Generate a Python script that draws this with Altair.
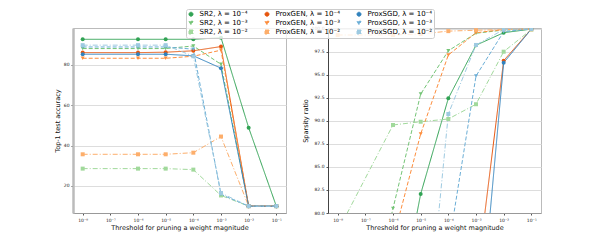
import altair as alt
import pandas as pd

thresholds = [1e-8, 1e-6, 1e-5, 1e-4, 1e-3, 1e-2, 1e-1]

# legend order (column-wise fill of a 3-column legend)
series = [
    "SR2, λ = 10⁻⁴", "SR2, λ = 10⁻³", "SR2, λ = 10⁻²",
    "ProxGEN, λ = 10⁻⁴", "ProxGEN, λ = 10⁻³", "ProxGEN, λ = 10⁻²",
    "ProxSGD, λ = 10⁻⁴", "ProxSGD, λ = 10⁻³", "ProxSGD, λ = 10⁻²",
]
colors = ["#31a354", "#74c476", "#a1d99b",
          "#e6550d", "#fd8d3c", "#fdae6b",
          "#3182bd", "#6baed6", "#9ecae1"]
shapes = ["circle", "triangle-down", "square"] * 3
dashes = [[1, 0], [4, 2], [5, 2, 1, 2]] * 3

# Top-1 test accuracy
acc_sr2_4 = [92.7, 92.7, 92.7, 92.7, 93.5, 48.9, 10.0]
acc_sr2_3 = [88.1, 88.1, 88.1, 89.4, 80.3, 10.0, 10.0]
acc_sr2_2 = [28.6, 28.6, 28.6, 28.1, 15.3, 10.0, 10.0]
acc_pg_4 = [86.1, 86.1, 86.3, 87.0, 89.1, 10.0, 10.0]
acc_pg_3 = [83.3, 83.3, 83.3, 84.3, 87.3, 10.0, 10.0]
acc_pg_2 = [35.7, 35.7, 35.7, 36.5, 44.5, 10.0, 10.0]
acc_ps_4 = [85.3, 85.3, 85.3, 84.5, 78.4, 10.0, 10.0]
acc_ps_3 = [88.9, 88.9, 88.9, 87.8, 15.8, 10.0, 10.0]
acc_ps_2 = [89.8, 89.8, 89.8, 84.3, 16.5, 10.0, 10.0]

# Sparsity ratio
sp_sr2_4 = [40.0, 66.5, 82.06, 92.44, 98.2, 99.56, 99.95]
sp_sr2_3 = [55.0, 80.5, 92.9, 97.6, 99.5, 99.85, 99.95]
sp_sr2_2 = [78.0, 89.55, 89.9, 90.2, 91.8, 97.5, 99.9]
sp_pg_4 = [10.0, 20.0, 35.0, 50.0, 72.2, 96.53, 99.95]
sp_pg_3 = [50.0, 77.1, 88.57, 97.14, 99.56, 99.9, 99.95]
sp_pg_2 = [99.31, 99.31, 99.42, 99.73, 99.83, 99.89, 99.93]
sp_ps_4 = [10.0, 20.0, 30.0, 45.0, 63.0, 96.3, 99.95]
sp_ps_3 = [20.0, 35.0, 50.0, 76.2, 94.86, 99.67, 99.97]
sp_ps_2 = [30.0, 45.0, 59.8, 90.74, 98.23, 99.9, 99.97]

acc = dict(zip(series, [acc_sr2_4, acc_sr2_3, acc_sr2_2,
                        acc_pg_4, acc_pg_3, acc_pg_2,
                        acc_ps_4, acc_ps_3, acc_ps_2]))
sp = dict(zip(series, [sp_sr2_4, sp_sr2_3, sp_sr2_2,
                       sp_pg_4, sp_pg_3, sp_pg_2,
                       sp_ps_4, sp_ps_3, sp_ps_2]))

def long(d):
    rows = []
    for s in series:
        for t, v in zip(thresholds, d[s]):
            rows.append({"threshold": t, "series": s, "value": v})
    return pd.DataFrame(rows)

df_acc = long(acc)
df_sp = long(sp)

FONT = "DejaVu Sans"
legend = alt.Legend(
    title=None, orient="none", legendX=113, legendY=-19, columns=3,
    labelFontSize=7, labelFont=FONT, symbolSize=16, symbolStrokeWidth=1,
    rowPadding=0, columnPadding=14, padding=1.5, labelOffset=5,
    fillColor="rgba(255,255,255,0.8)", strokeColor="#cccccc", cornerRadius=2,
    labelLimit=200,
)

color = alt.Color("series:N", scale=alt.Scale(domain=series, range=colors), legend=legend)
shape = alt.Shape("series:N", scale=alt.Scale(domain=series, range=shapes), legend=legend)
dash = alt.StrokeDash("series:N", scale=alt.Scale(domain=series, range=dashes), legend=None)

exp_labels = "'10' + ['⁻⁸','⁻⁷','⁻⁶','⁻⁵','⁻⁴','⁻³','⁻²','⁻¹'][round(log(datum.value)/LN10) + 8]"
x = alt.X("threshold:Q",
          scale=alt.Scale(type="log", domain=[10 ** -8.35, 10 ** -0.65], nice=False),
          axis=alt.Axis(values=[1e-8, 1e-7, 1e-6, 1e-5, 1e-4, 1e-3, 1e-2, 1e-1],
                        labelExpr=exp_labels, grid=False,
                        title="Threshold for pruning a weight magnitude"))

def panel(df, ydom, yvals, ytitle, yfmt, domcolor, domwidth):
    y = alt.Y("value:Q", scale=alt.Scale(domain=ydom, nice=False, zero=False),
              axis=alt.Axis(values=yvals, title=ytitle, format=yfmt,
                            domainColor=domcolor, domainWidth=domwidth))
    base = alt.Chart(df).encode(x=x, y=y, color=color)
    lines = base.mark_line(strokeWidth=1, clip=True).encode(strokeDash=dash, detail="series:N")
    pts = base.mark_point(filled=True, size=16, opacity=1, clip=True).encode(shape=shape)
    return alt.layer(lines, pts).properties(width=213, height=185)

left = panel(df_acc, [6.6, 98.3], [20, 40, 60, 80], "Top-1 test accuracy", "d", "#bbbbbb", 2.5)
right = panel(df_sp, [80, 100.07], [80, 82.5, 85, 87.5, 90, 92.5, 95, 97.5, 100],
              "Sparsity ratio", ".1f", "#444444", 1)

chart = alt.hconcat(left, right, spacing=14).properties(
    padding={"left": 45, "top": 0, "right": 5, "bottom": 5}
).configure_view(stroke="#bbbbbb", strokeWidth=1).configure_axis(
    labelFont=FONT, titleFont=FONT, labelFontSize=4.5, titleFontSize=6.5,
    titleFontWeight="normal", labelColor="#222222", titleColor="#111111",
    tickSize=2, tickColor="#555555", domainColor="#999999", labelPadding=2,
    titlePadding=3, gridColor="#dddddd", gridWidth=1.2,
).configure_axisX(domainColor="#999999")

chart.save("out.html", embed_options={"renderer": "svg", "actions": False})
